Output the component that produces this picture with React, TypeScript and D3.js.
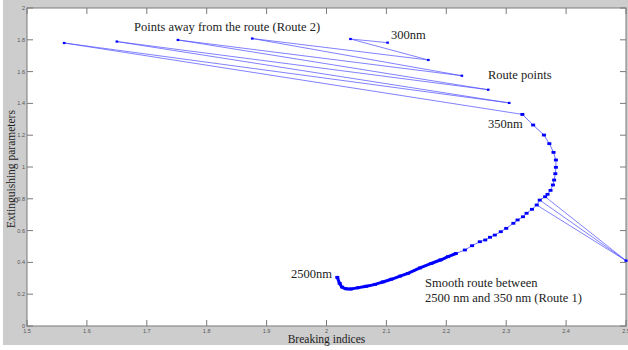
import React, { useRef, useEffect } from "react";
import * as d3 from "d3";

// Route 1: smooth route from 350 nm (first) down to 2500 nm (last)
const route1X = [
  2.327, 2.345, 2.363, 2.372, 2.379, 2.383, 2.383, 2.382, 2.38, 2.378, 2.374,
  2.369, 2.365, 2.356, 2.351, 2.343, 2.334, 2.328, 2.319, 2.312, 2.3, 2.291,
  2.281, 2.273, 2.265, 2.256, 2.243, 2.231, 2.216, 2.203, 2.19, 2.175, 2.156,
  2.136, 2.123, 2.108, 2.094, 2.081, 2.066, 2.053, 2.041, 2.033, 2.026, 2.022,
  2.018,
];
const route1Y = [
  1.331, 1.264, 1.201, 1.147, 1.092, 1.044, 0.998, 0.958, 0.918, 0.887, 0.853,
  0.828, 0.813, 0.792, 0.761, 0.734, 0.709, 0.687, 0.667, 0.646, 0.614, 0.593,
  0.572, 0.558, 0.541, 0.53, 0.505, 0.478, 0.456, 0.436, 0.415, 0.394, 0.365,
  0.331, 0.314, 0.294, 0.277, 0.262, 0.25, 0.241, 0.233, 0.234, 0.245, 0.268,
  0.306,
];

// Route 2: zig-zag between route points and points away from the route
const route2X = [
  2.327, 1.562, 2.305, 1.65, 2.27, 1.752, 2.226, 1.876, 2.17, 2.04, 2.102,
];
const route2Y = [
  1.331, 1.78, 1.403, 1.789, 1.486, 1.799, 1.574, 1.808, 1.673, 1.805, 1.782,
];

// point on the right edge joined to a few route 1 points
const edgePoint = [2.5, 0.411];
const edgeLinks = [12, 13, 14];

const xTicks = [1.5, 1.6, 1.7, 1.8, 1.9, 2, 2.1, 2.2, 2.3, 2.4, 2.5];
const yTicks = [0, 0.2, 0.4, 0.6, 0.8, 1, 1.2, 1.4, 1.6, 1.8, 2];

const notes = [
  { text: "Points away from the route (Route 2)", x: 134, y: 31 },
  { text: "300nm", x: 391, y: 38.5 },
  { text: "Route points", x: 488, y: 78.5 },
  { text: "350nm", x: 488, y: 128 },
  { text: "2500nm", x: 291, y: 278 },
  { text: "Smooth route between", x: 425, y: 287 },
  { text: "2500 nm and 350 nm (Route 1)", x: 425, y: 302 },
];

const App = () => {
  const ref = useRef<SVGSVGElement>(null);

  useEffect(() => {
    const svg = d3.select(ref.current);
    svg.selectAll("*").remove();

    const W = 628;
    const H = 350;
    const left = 27,
      right = 626,
      top = 8,
      bottom = 326;

    svg.attr("width", W).attr("height", H);
    svg.append("rect").attr("width", W).attr("height", H).attr("fill", "#fff");
    svg
      .append("rect")
      .attr("x", 3)
      .attr("y", 0)
      .attr("width", W - 3)
      .attr("height", 345)
      .attr("fill", "#cdcdcd");
    svg
      .append("rect")
      .attr("x", left)
      .attr("y", top)
      .attr("width", right - left)
      .attr("height", bottom - top)
      .attr("fill", "#fff");

    const x = d3.scaleLinear().domain([1.5, 2.5]).range([left, right]);
    const y = d3.scaleLinear().domain([0, 2]).range([bottom, top]);

    // frame + inward ticks on all sides
    const axisCol = "#7a7a7a";
    const frame = svg.append("g").attr("stroke", axisCol).attr("fill", "none");
    frame
      .append("rect")
      .attr("x", left)
      .attr("y", top)
      .attr("width", right - left)
      .attr("height", bottom - top)
      .attr("stroke-width", 1);
    xTicks.forEach((t) => {
      frame
        .append("line")
        .attr("x1", x(t))
        .attr("x2", x(t))
        .attr("y1", bottom)
        .attr("y2", bottom - 6);
      frame
        .append("line")
        .attr("x1", x(t))
        .attr("x2", x(t))
        .attr("y1", top)
        .attr("y2", top + 6);
    });
    yTicks.forEach((t) => {
      frame
        .append("line")
        .attr("x1", left)
        .attr("x2", left + 6)
        .attr("y1", y(t))
        .attr("y2", y(t));
      frame
        .append("line")
        .attr("x1", right)
        .attr("x2", right - 6)
        .attr("y1", y(t))
        .attr("y2", y(t));
    });

    const tickFont = "'Liberation Sans', Arial, sans-serif";
    svg
      .append("g")
      .selectAll("text")
      .data(xTicks)
      .enter()
      .append("text")
      .attr("x", (d) => x(d))
      .attr("y", bottom + 6.5)
      .attr("text-anchor", "middle")
      .attr("font-family", tickFont)
      .attr("font-size", 5.5)
      .attr("fill", "#555")
      .text((d) => String(d));
    svg
      .append("g")
      .selectAll("text")
      .data(yTicks)
      .enter()
      .append("text")
      .attr("x", left - 2)
      .attr("y", (d) => y(d) + 2)
      .attr("text-anchor", "end")
      .attr("font-family", tickFont)
      .attr("font-size", 5.5)
      .attr("fill", "#555")
      .text((d) => String(d));

    const blue = "#0000ff";
    const r1 = route1X.map((v, i) => [v, route1Y[i]] as [number, number]);
    const r2 = route2X.map((v, i) => [v, route2Y[i]] as [number, number]);

    const line = d3
      .line<[number, number]>()
      .x((d) => x(d[0]))
      .y((d) => y(d[1]));

    // route 2 thin lines
    svg
      .append("path")
      .attr("d", line(r2))
      .attr("fill", "none")
      .attr("stroke", "#4a4aff")
      .attr("stroke-width", 0.7);

    // links to the edge point
    edgeLinks.forEach((i) => {
      svg
        .append("line")
        .attr("x1", x(r1[i][0]))
        .attr("y1", y(r1[i][1]))
        .attr("x2", x(edgePoint[0]))
        .attr("y2", y(edgePoint[1]))
        .attr("stroke", "#4a4aff")
        .attr("stroke-width", 0.7);
    });

    // route 1 thin line through all points
    svg
      .append("path")
      .attr("d", line(r1))
      .attr("fill", "none")
      .attr("stroke", "#4a4aff")
      .attr("stroke-width", 0.8);

    // dense lower part looks like a thick smooth curve
    const dense = r1.filter((d) => d[0] <= 2.22);
    svg
      .append("path")
      .attr("d", line.curve(d3.curveCatmullRom)(dense))
      .attr("fill", "none")
      .attr("stroke", blue)
      .attr("stroke-width", 3)
      .attr("stroke-linecap", "round");

    // markers
    const markers = svg.append("g").attr("fill", blue);
    r1.forEach((d) => {
      markers
        .append("rect")
        .attr("x", x(d[0]) - 2)
        .attr("y", y(d[1]) - 1.4)
        .attr("width", 4)
        .attr("height", 2.8);
    });
    r2.forEach((d) => {
      markers
        .append("rect")
        .attr("x", x(d[0]) - 1.3)
        .attr("y", y(d[1]) - 1.1)
        .attr("width", 2.6)
        .attr("height", 2.2);
    });
    markers
      .append("rect")
      .attr("x", x(edgePoint[0]) - 1.5)
      .attr("y", y(edgePoint[1]) - 1.2)
      .attr("width", 3)
      .attr("height", 2.4);

    // annotations
    const serif = "'Liberation Serif', 'Times New Roman', serif";
    notes.forEach((n) => {
      svg
        .append("text")
        .attr("x", n.x)
        .attr("y", n.y)
        .attr("font-family", serif)
        .attr("font-size", 12.5)
        .attr("fill", "#222")
        .text(n.text);
    });

    svg
      .append("text")
      .attr("x", (left + right) / 2)
      .attr("y", 343)
      .attr("text-anchor", "middle")
      .attr("font-family", serif)
      .attr("font-size", 11.5)
      .attr("fill", "#222")
      .text("Breaking indices");
    svg
      .append("text")
      .attr("transform", `translate(15,${(top + bottom) / 2 + 2}) rotate(-90)`)
      .attr("text-anchor", "middle")
      .attr("font-family", serif)
      .attr("font-size", 11.5)
      .attr("fill", "#222")
      .text("Extinguishing parameters");
  }, []);

  return (
    <svg
      ref={ref}
      style={{ display: "block", position: "absolute", left: 0, top: 0 }}
    />
  );
};

export default App;
